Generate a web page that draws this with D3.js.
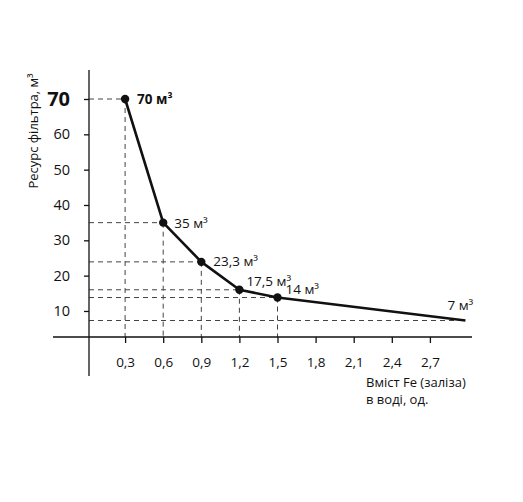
<!DOCTYPE html>
<html>
<head>
<meta charset="utf-8">
<script src="https://cdn.jsdelivr.net/npm/d3@7"></script>
<style>
  body { margin: 0; background: #fff; }
  svg text { font-family: "Open Sans", sans-serif; fill: #111; }
</style>
</head>
<body>
<div id="chart"></div>
<script>
// Fe content in water vs filter resource
var feValues = [0.3, 0.6, 0.9, 1.2, 1.5, 2.98];
var resource = [70, 35, 23.9, 16, 13.8, 7.3];
var pointLabels = ['70 м³', '35 м³', '23,3 м³', '17,5 м³', '14 м³', '7 м³'];
var xTicks = [0.3, 0.6, 0.9, 1.2, 1.5, 1.8, 2.1, 2.4, 2.7];
var yTicks = [10, 20, 30, 40, 50, 60, 70];

var width = 523, height = 502;

var svg = d3.select('#chart').append('svg')
    .attr('width', width)
    .attr('height', height);

var x = d3.scaleLinear().domain([0, 3]).range([87, 468]);
var y = d3.scaleLinear().domain([0, 70]).range([346.3, 99]);

var axisY = 337;   // where the x axis sits
var axisX = 89;    // where the y axis sits

var fmt = function(d) { return String(d).replace('.', ','); };

// dashed guide lines
var guides = svg.append('g')
    .attr('stroke', '#444')
    .attr('stroke-width', 1)
    .attr('stroke-dasharray', '5,4')
    .attr('fill', 'none');

feValues.forEach(function(v, i) {
    guides.append('line')
        .attr('x1', axisX).attr('x2', x(v))
        .attr('y1', y(resource[i])).attr('y2', y(resource[i]));
    if (i < feValues.length - 1) {
        guides.append('line')
            .attr('x1', x(v)).attr('x2', x(v))
            .attr('y1', y(resource[i])).attr('y2', axisY);
    }
});

// axes lines
svg.append('line')
    .attr('x1', 53).attr('x2', 472)
    .attr('y1', axisY).attr('y2', axisY)
    .attr('stroke', '#111').attr('stroke-width', 1.3);
svg.append('line')
    .attr('x1', axisX).attr('x2', axisX)
    .attr('y1', 70).attr('y2', 376)
    .attr('stroke', '#111').attr('stroke-width', 1.3);

// x axis ticks + labels
var xAxis = svg.append('g')
    .attr('transform', 'translate(0,' + axisY + ')')
    .call(d3.axisBottom(x).tickValues(xTicks).tickSize(6).tickPadding(14).tickFormat(fmt));
xAxis.select('.domain').remove();
xAxis.selectAll('.tick line').attr('stroke', '#111').attr('stroke-width', 1.3);
xAxis.selectAll('.tick text').attr('font-size', 13.5).attr('fill', '#111');

// y axis ticks + labels
var yAxis = svg.append('g')
    .attr('transform', 'translate(' + axisX + ',0)')
    .call(d3.axisLeft(y).tickValues(yTicks).tickSize(5).tickPadding(14));
yAxis.select('.domain').remove();
yAxis.selectAll('.tick line').attr('stroke', '#111').attr('stroke-width', 1.3);
yAxis.selectAll('.tick text')
    .attr('font-size', function(d) { return d === 70 ? 20 : 14.5; })
    .attr('font-weight', function(d) { return d === 70 ? 'bold' : 'normal'; })
    .attr('fill', '#111');

// the curve
var pts = feValues.map(function(v, i) { return [v, resource[i]]; });
var line = d3.line()
    .x(function(d) { return x(d[0]); })
    .y(function(d) { return y(d[1]); });

svg.append('path')
    .datum(pts)
    .attr('d', line)
    .attr('fill', 'none')
    .attr('stroke', '#111')
    .attr('stroke-width', 2.6)
    .attr('stroke-linejoin', 'round');

// dots (not on the last point)
svg.selectAll('circle.pt')
    .data(pts.slice(0, pts.length - 1))
    .enter().append('circle')
    .attr('class', 'pt')
    .attr('cx', function(d) { return x(d[0]); })
    .attr('cy', function(d) { return y(d[1]); })
    .attr('r', 4.2)
    .attr('fill', '#111');

// point labels
var labelOffsets = [[12, 5], [11, 5], [12, 4], [7, -4], [8, -4], [-18, -11]];
svg.selectAll('text.pl')
    .data(pts)
    .enter().append('text')
    .attr('class', 'pl')
    .attr('x', function(d, i) { return x(d[0]) + labelOffsets[i][0]; })
    .attr('y', function(d, i) { return y(d[1]) + labelOffsets[i][1]; })
    .attr('font-size', 13.5)
    .attr('font-weight', function(d, i) { return i === 0 ? 'bold' : 'normal'; })
    .text(function(d, i) { return pointLabels[i]; });

// axis titles
svg.append('text')
    .attr('transform', 'translate(38,131) rotate(-90)')
    .attr('text-anchor', 'middle')
    .attr('font-size', 13)
    .text('Ресурс фільтра, м³');

svg.append('text')
    .attr('x', 366).attr('y', 387)
    .attr('font-size', 13)
    .text('Вміст Fe (заліза)');
svg.append('text')
    .attr('x', 366).attr('y', 404)
    .attr('font-size', 13)
    .text('в воді, од.');
</script>
</body>
</html>
